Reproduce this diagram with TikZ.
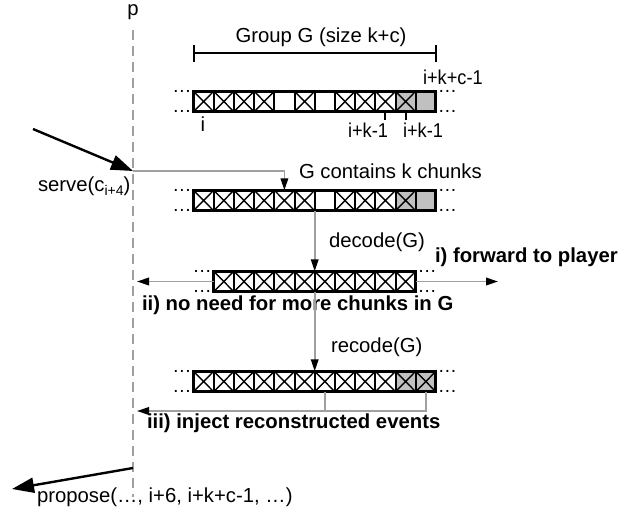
\documentclass[tikz,border=0pt]{standalone}
\usepackage{fontspec}
\setmainfont{Liberation Sans}
\newfontfamily\narrowsans[FakeStretch=0.91]{Liberation Sans}
\usetikzlibrary{arrows.meta,calc}
\definecolor{linegray}{HTML}{A0A0A0}
\definecolor{cellgray}{HTML}{C0C0C0}
\tikzset{
  lab/.style={inner sep=0pt, outer sep=0pt, font=\fontsize{10.15}{12}\selectfont},
  narrowlab/.style={inner sep=0pt, outer sep=0pt, font=\narrowsans\fontsize{10}{12}\selectfont},
  boldlab/.style={lab, font=\fontsize{10.15}{12}\selectfont\bfseries},
  barbox/.style={draw=none, inner sep=0pt, outer sep=0pt, minimum height=10.25pt},
  barline/.style={line width=1.5pt, black},
  divline/.style={line width=1pt, black},
  crossline/.style={line width=0.7pt, black},
  grayline/.style={line width=0.85pt, linegray},
  grayarrow/.style={grayline, -{Triangle[length=6pt,width=3.8pt,color=black]}},
  blackarrow/.style={line width=1.2pt, black, -{Triangle[length=11pt,width=7.5pt]}},
  proc/.style={dash pattern=on 5pt off 3pt, line width=0.8pt, linegray},
  dotslab/.style={inner sep=0pt, outer sep=0pt, text height=1.2pt, text depth=0pt, font=\fontsize{9.6}{10}\selectfont}
}
\newcommand{\mkbar}[4]{% name, center, number of cells, list fill/cross
  \node[barbox, minimum width=#3*10.1pt] (#1) at #2 {};
  \foreach \g/\x [count=\j from 0] in {#4} {
    \ifnum\g=1 \fill[cellgray] ([xshift=\j*10.1pt]#1.north west) rectangle ++(10.1pt,-10.25pt);\fi
    \ifnum\x=1 \draw[crossline] ([xshift=\j*10.1pt]#1.north west) -- ++(10.1pt,-10.25pt) ++(-10.1pt,0pt) -- ++(10.1pt,10.25pt);\fi
    \ifnum\j>0 \draw[divline] ([xshift=\j*10.1pt]#1.north west) -- ++(0pt,-10.25pt);\fi
  }
  \draw[barline] (#1.north west) rectangle (#1.south east);
  \node[dotslab, anchor=base east] at ([xshift=-1pt,yshift=-0.6pt]#1.north west) {…};
  \node[dotslab, anchor=base east] at ([xshift=-1pt,yshift=-0.6pt]#1.south west) {…};
  \node[dotslab, anchor=base west] at ([xshift=1pt,yshift=-0.6pt]#1.north east) {…};
  \node[dotslab, anchor=base west] at ([xshift=1pt,yshift=-0.6pt]#1.south east) {…};
}
\begin{document}
\begin{tikzpicture}[x=0.5pt,y=-0.5pt]
\useasboundingbox (0,0) rectangle (620,514);

% process line
\node[lab, anchor=base] (plab) at (133,16) {p};
\coordinate (ptop) at (133,30);
\coordinate (pbot) at (133,497);
\draw[proc] (ptop) -- (pbot);

% group bracket
\coordinate (gl) at (194,53);
\coordinate (gr) at (436,53);
\draw[line width=1pt] (gl) -- (gr);
\draw[line width=1pt] ([yshift=4pt]gl) -- ([yshift=-4.5pt]gl);
\draw[line width=1pt] ([yshift=4pt]gr) -- ([yshift=-4.5pt]gr);
\node[lab, anchor=base] (grp) at (321,42) {Group G (size k+c)};

% bar 1
\mkbar{bar1}{(314.7,101.5)}{12}{0/1,0/1,0/1,0/1,0/0,0/1,0/0,0/1,0/1,0/1,1/1,1/0}
\node[narrowlab, anchor=base west] (ikc) at (423,84) {i+k+c-1};
\node[lab, anchor=base] (ilab) at (203,131) {i};
\draw[divline] ([xshift=9.5*10.1pt]bar1.south west) -- ++(0pt,-4pt);
\draw[divline] ([xshift=10.5*10.1pt]bar1.south west) -- ++(0pt,-4pt);
\node[narrowlab, anchor=base east] (ik1) at (388,137) {i+k-1};
\node[narrowlab, anchor=base west] (ik2) at (403,137) {i+k-1};

% serve
\coordinate (servein) at (33,129);
\coordinate (serveat) at (133,171);
\draw[blackarrow] (servein) -- (serveat);
\node[lab, anchor=base west] (serve) at (38,191) {serve(c\raisebox{-2.2pt}{\fontsize{7}{8}\selectfont i+4})};

% bar 2
\mkbar{bar2}{(314.7,200.5)}{12}{0/1,0/1,0/1,0/1,0/1,0/1,0/0,0/1,0/1,0/1,1/1,1/0}
\draw[grayarrow] (serveat) -| ([xshift=4.5*10.1pt]bar2.north west);
\node[lab, anchor=base west] (gcont) at (299,178) {G contains k chunks};

% bar 3
\mkbar{bar3}{(314.7,281.5)}{10}{0/1,0/1,0/1,0/1,0/1,0/1,0/1,0/1,0/1,0/1}
\draw[grayarrow] (bar2.south) -- (bar3.north);
\node[lab, anchor=base west] (dec) at (329,247) {decode(G)};
\coordinate (ltip) at (137,281.5);
\coordinate (rtip) at (498,281.5);
\draw[grayarrow] (bar3.west) -- (ltip);
\draw[grayarrow] (bar3.east) -- (rtip);
\node[boldlab, anchor=base west] (fwd) at (435,262) {i) forward to player};
\node[boldlab, anchor=base west] (noneed) at (142,310) {ii) no need for more chunks in G};

% bar 4
\mkbar{bar4}{(314.7,381.5)}{12}{0/1,0/1,0/1,0/1,0/1,0/1,0/1,0/1,0/1,0/1,1/1,1/1}
\draw[grayarrow] (bar3.south) -- (bar4.north);
\node[lab, anchor=base west] (rec) at (331,352) {recode(G)};
\coordinate (injtip) at (137,411);
\draw[grayarrow] ([xshift=11.5*10.1pt]bar4.south west) |- (injtip);
\draw[grayline] ([xshift=6.5*10.1pt]bar4.south west) -- ([xshift=6.5*10.1pt]bar4.south west |- injtip);
\node[boldlab, anchor=base west] (inj) at (147,428) {iii) inject reconstructed events};

% propose
\coordinate (propat) at (133,468);
\coordinate (propout) at (12,489);
\draw[blackarrow] (propat) -- (propout);
\node[lab, anchor=base west] (prop) at (37,502) {propose(…, i+6, i+k+c-1, …)};
\end{tikzpicture}
\end{document}
